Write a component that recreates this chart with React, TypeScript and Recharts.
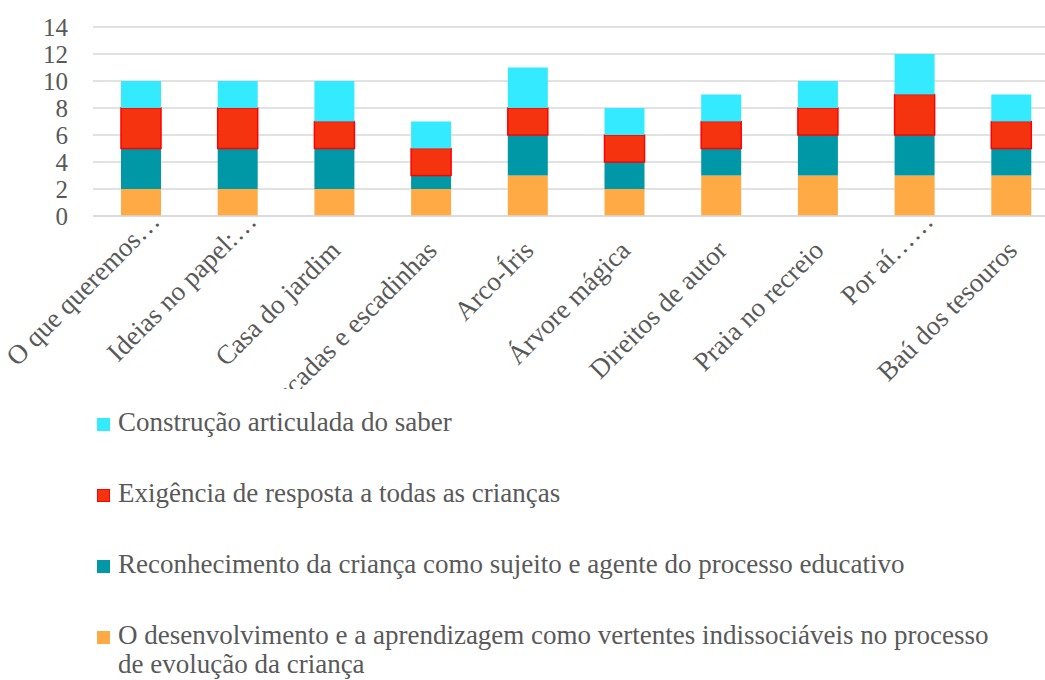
import React from 'react';
import { Bar, BarChart, CartesianGrid, Legend, XAxis, YAxis } from 'recharts';

const categories = [
    'O que queremos…',
    'Ideias no papel:…',
    'Casa do jardim',
    'Escadas e escadinhas',
    'Arco-Íris',
    'Árvore mágica',
    'Direitos de autor',
    'Praia no recreio',
    'Por aí……',
    'Baú dos tesouros',
];

const desenvolvimento = [2, 2, 2, 2, 3, 2, 3, 3, 3, 3];
const reconhecimento = [3, 3, 3, 1, 3, 2, 2, 3, 3, 2];
const exigencia = [3, 3, 2, 2, 2, 2, 2, 2, 3, 2];
const construcao = [2, 2, 3, 2, 3, 2, 2, 2, 3, 2];

const yTicks = [0, 2, 4, 6, 8, 10, 12, 14];

const SERIES = [
    {
        key: 'desenvolvimento',
        name: 'O desenvolvimento e a aprendizagem como vertentes indissociáveis no processo de evolução da criança',
        fill: '#FFAA44',
        stroke: 'none',
    },
    {
        key: 'reconhecimento',
        name: 'Reconhecimento da criança como sujeito e agente do processo educativo',
        fill: '#0097A7',
        stroke: 'none',
    },
    { key: 'exigencia', name: 'Exigência de resposta a todas as crianças', fill: '#F5340F', stroke: '#FF0000' },
    { key: 'construcao', name: 'Construção articulada do saber', fill: '#33EAFF', stroke: 'none' },
];

const data = categories.map((name, i) => ({
    name,
    desenvolvimento: desenvolvimento[i],
    reconhecimento: reconhecimento[i],
    exigencia: exigencia[i],
    construcao: construcao[i],
}));

const FONT = '"Liberation Serif"';
const TEXT = '#595959';
const FS = 27;

// labels are cut off where the legend starts; truncated ones sit higher
const XTick = (props: any) => {
    const { x, y, payload, index } = props;
    const cut = String(payload.value).endsWith('…');
    const tx = x + 7 + (cut ? 13 : 0);
    const ty = y + (cut ? 5 : 34);
    return (
        <g>
            {index === 0 && (
                <defs>
                    <clipPath id="xlabels-clip">
                        <rect x={0} y={0} width={1062} height={389} />
                    </clipPath>
                </defs>
            )}
            <g clipPath="url(#xlabels-clip)">
                <text
                    x={tx}
                    y={ty}
                    transform={`rotate(-45 ${tx} ${ty})`}
                    textAnchor="end"
                    style={{ fontSize: FS, fontFamily: FONT }}
                    fill={TEXT}
                >
                    {payload.value}
                </text>
            </g>
        </g>
    );
};

const LegendBox = () => (
    <div style={{ height: 290, paddingLeft: 97, paddingTop: 18, boxSizing: 'border-box', fontFamily: FONT }}>
        {[...SERIES].reverse().map((s, i) => (
            <div key={s.key} style={{ display: 'flex', alignItems: 'flex-start', marginTop: i === 0 ? 0 : 42 }}>
                <span
                    style={{
                        width: 13,
                        height: 13,
                        marginTop: 10,
                        marginRight: 8,
                        flex: 'none',
                        boxSizing: 'border-box',
                        background: s.fill,
                        border: s.stroke !== 'none' ? `1.5px solid ${s.stroke}` : 'none',
                    }}
                />
                <span style={{ fontSize: FS, lineHeight: '29px', color: TEXT, width: 890, fontFamily: FONT }}>
                    {s.name}
                </span>
            </div>
        ))}
    </div>
);

export default function App() {
    return (
        <div
            style={{
                position: 'absolute',
                left: 0,
                top: 0,
                width: 1045,
                height: 680,
                overflow: 'hidden',
                background: '#fff',
                fontFamily: FONT,
            }}
        >
            <BarChart width={1062} height={680} data={data} margin={{ top: 27, right: 2, left: 0, bottom: 0 }} barSize={40}>
                <CartesianGrid vertical={false} stroke="#D9D9D9" strokeWidth={1.5} />
                <XAxis
                    dataKey="name"
                    interval={0}
                    height={174}
                    tickLine={false}
                    tickSize={0}
                    axisLine={{ stroke: '#D9D9D9', strokeWidth: 1.5 }}
                    tick={<XTick />}
                />
                <YAxis
                    width={93}
                    domain={[0, 14]}
                    ticks={yTicks}
                    interval={0}
                    axisLine={false}
                    tickLine={false}
                    tickSize={0}
                    tickMargin={25}
                    tick={{ fontSize: 25, fill: TEXT, style: { fontFamily: FONT } }}
                />
                <Legend verticalAlign="bottom" align="left" layout="horizontal" content={<LegendBox />} />
                {SERIES.map((s) => (
                    <Bar
                        key={s.key}
                        dataKey={s.key}
                        name={s.name}
                        stackId="a"
                        fill={s.fill}
                        stroke={s.stroke}
                        strokeWidth={s.stroke !== 'none' ? 1.5 : 0}
                        isAnimationActive={false}
                    />
                ))}
            </BarChart>
        </div>
    );
}
